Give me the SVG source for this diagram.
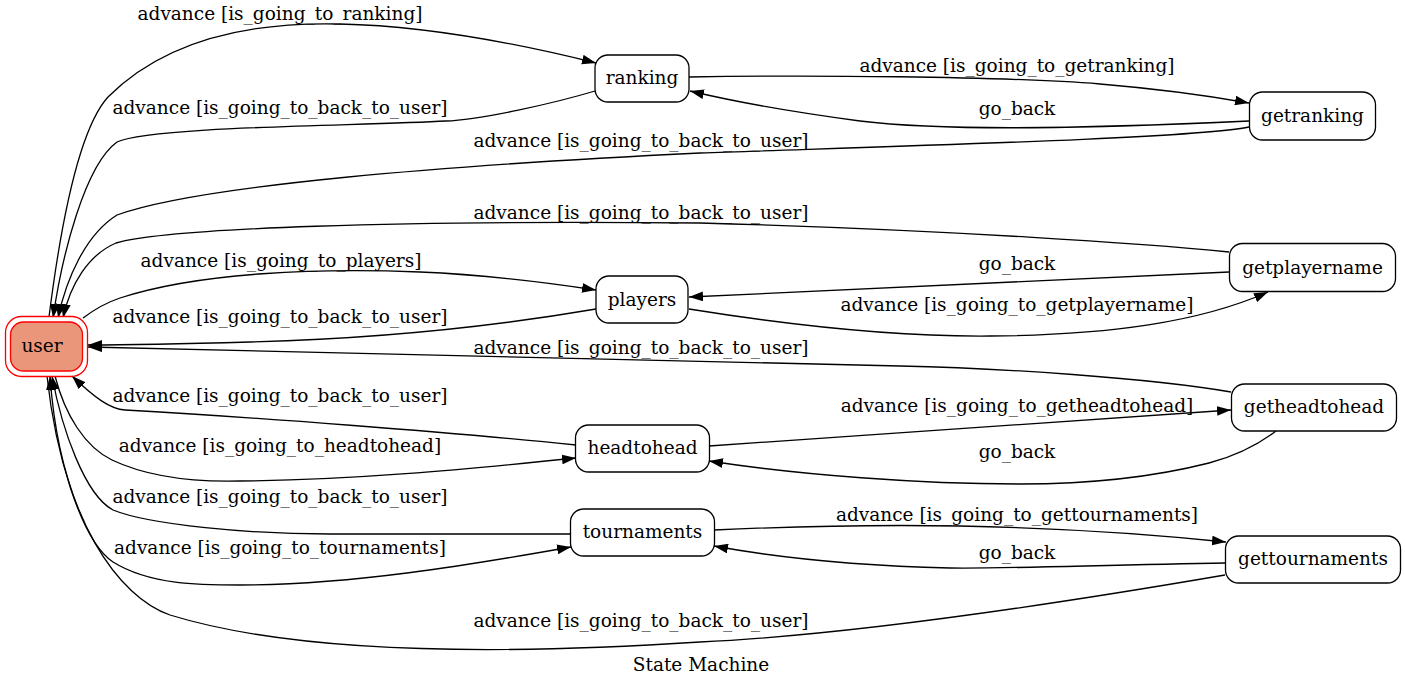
<svg xmlns="http://www.w3.org/2000/svg" width="1405" height="688" viewBox="0 0 1405 688">
<defs>
<style>
.n rect{fill:#fff;stroke:#000;stroke-width:1.3}
text{font-family:"DejaVu Serif","Liberation Serif",serif;font-size:18.5px;fill:#000;text-anchor:middle}
.e path{fill:none;stroke:#000;stroke-width:1.3;marker-end:url(#ah)}
</style>
<marker id="ah" markerUnits="userSpaceOnUse" markerWidth="14" markerHeight="10" refX="13.3" refY="4.67" orient="auto" viewBox="0 0 13.3 9.34"><path d="M0,0 L13.3,4.67 L0,9.34 z" fill="#000"/></marker>
</defs>
<rect width="1405" height="688" fill="#fff"/>
<g id="connectors" class="e">
<path d="M49,317 C60,230 78,130 108,97 C170,35 260,22 340,24 C430,26 520,44 596,63" id="e1"/>
<path d="M595,91 C555,103 480,120 446,121 C360,126 150,126 117,142 C85,165 62,255 53,318" id="e2"/>
<path d="M1249,127 C1200,138 900,146 700,153 C450,165 200,185 117,215 C85,235 66,280 58,318" id="e3"/>
<path d="M1229,252 C1150,244 950,230 700,223 C400,220 170,228 116,243 C88,255 70,285 63,318" id="e4"/>
<path d="M83,318 C95,309 105,303 120,298 C200,272 320,268 420,272 C490,275 550,283 596,290" id="e5"/>
<path d="M596,309 C520,322 400,338 250,342 C180,344 120,345 88,345" id="e6"/>
<path d="M1229,272 L689,297" id="e7"/>
<path d="M689,309 C770,322 880,337 990,336 C1110,335 1200,322 1268,292" id="e8"/>
<path d="M689,77 C800,75 1000,76 1100,84 C1160,89 1210,96 1249,103" id="e9"/>
<path d="M1249,121 C1100,128 950,132 860,121 C800,113 740,103 690,91" id="e10"/>
<path d="M1231,392 C1150,378 1000,368 900,366 C600,358 300,350 88,347" id="e11"/>
<path d="M576,445 C450,432 250,417 125,410 C110,409 95,398 72,376" id="e12"/>
<path d="M55,376 C65,415 85,447 112,460 C150,478 200,482 240,481 C350,480 460,470 576,458" id="e13"/>
<path d="M570,534 L330,534 C250,534 150,525 113,510 C85,495 62,430 52,376" id="e14"/>
<path d="M47,376 C55,450 80,540 113,562 C150,585 200,585 240,585 C350,585 470,565 571,547" id="e15"/>
<path d="M1225,575 C1050,605 850,635 700,642 C500,655 300,655 170,615 C120,598 60,520 50,376" id="e16"/>
<path d="M709,446 L1231,410" id="e17"/>
<path d="M1276,431 C1255,447 1235,456 1209,463 C1150,478 1080,484 1020,484 C920,484 800,475 709,461" id="e18"/>
<path d="M714,530 C800,526 900,525 960,526 C1060,528 1150,534 1226,542" id="e19"/>
<path d="M1226,563 C1100,565 1000,569 950,568 C870,566 790,560 714,546" id="e20"/>
</g>
<g id="edge-labels">
<text x="280" y="20">advance [is_going_to_ranking]</text>
<text x="280" y="114">advance [is_going_to_back_to_user]</text>
<text x="641" y="147">advance [is_going_to_back_to_user]</text>
<text x="641" y="219">advance [is_going_to_back_to_user]</text>
<text x="281" y="267">advance [is_going_to_players]</text>
<text x="280" y="323">advance [is_going_to_back_to_user]</text>
<text x="1017" y="270">go_back</text>
<text x="1017" y="311">advance [is_going_to_getplayername]</text>
<text x="1017" y="72">advance [is_going_to_getranking]</text>
<text x="1017" y="115">go_back</text>
<text x="641" y="354">advance [is_going_to_back_to_user]</text>
<text x="280" y="402">advance [is_going_to_back_to_user]</text>
<text x="280" y="452">advance [is_going_to_headtohead]</text>
<text x="280" y="503">advance [is_going_to_back_to_user]</text>
<text x="280" y="554">advance [is_going_to_tournaments]</text>
<text x="641" y="627">advance [is_going_to_back_to_user]</text>
<text x="1017" y="412">advance [is_going_to_getheadtohead]</text>
<text x="1017" y="458">go_back</text>
<text x="1017" y="521">advance [is_going_to_gettournaments]</text>
<text x="1017" y="559">go_back</text>
</g>
<g id="user" class="n">
<rect x="5.5" y="316.5" width="82" height="60" rx="16" style="fill:#fff;stroke:#f00"/>
<rect x="10.5" y="322" width="72" height="49" rx="13" style="fill:#E9967A;stroke:#f00"/>
<text x="42" y="352">user</text>
</g>
<g id="ranking" class="n"><rect x="595" y="55" width="94" height="47" rx="13"/><text x="642" y="84">ranking</text></g>
<g id="getranking" class="n"><rect x="1249.5" y="92" width="126" height="48" rx="13"/><text x="1312.5" y="122">getranking</text></g>
<g id="getplayername" class="n"><rect x="1229.5" y="243.5" width="166" height="48" rx="13"/><text x="1312.5" y="274">getplayername</text></g>
<g id="players" class="n"><rect x="596" y="276" width="92" height="47" rx="13"/><text x="642" y="306">players</text></g>
<g id="getheadtohead" class="n"><rect x="1231.5" y="384" width="165" height="47" rx="13"/><text x="1314" y="413">getheadtohead</text></g>
<g id="headtohead" class="n"><rect x="575.5" y="425" width="134" height="47" rx="13"/><text x="642.5" y="454">headtohead</text></g>
<g id="tournaments" class="n"><rect x="570.5" y="509" width="144" height="47" rx="13"/><text x="642.5" y="538">tournaments</text></g>
<g id="gettournaments" class="n"><rect x="1225.5" y="536" width="175" height="47" rx="13"/><text x="1313" y="565">gettournaments</text></g>
<text x="701" y="671">State Machine</text>
</svg>
